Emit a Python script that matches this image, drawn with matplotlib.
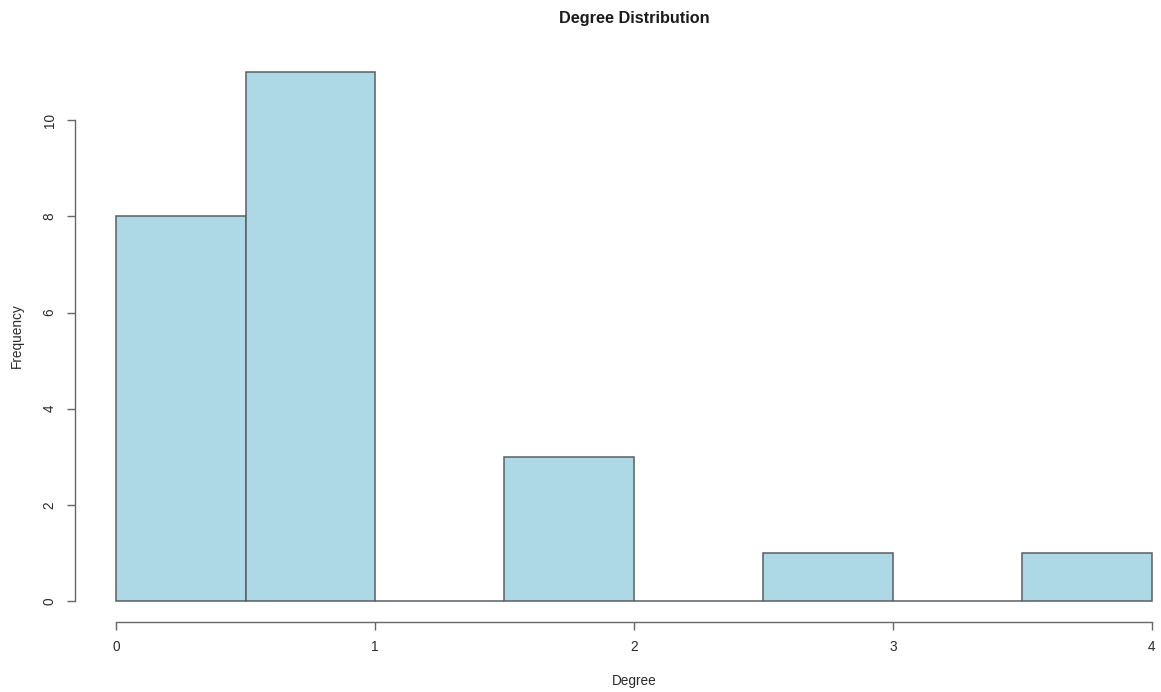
import matplotlib
matplotlib.use("Agg")
import matplotlib.pyplot as plt

# Histogram of node degrees: bin edges and counts per bin
bin_edges = [0.0, 0.5, 1.0, 1.5, 2.0, 2.5, 3.0, 3.5, 4.0]
counts = [8, 11, 0, 3, 0, 1, 0, 1]
x_ticks = [0, 1, 2, 3, 4]
y_ticks = [0, 2, 4, 6, 8, 10]

plt.rcParams["font.family"] = ["Liberation Sans", "DejaVu Sans"]

W, H = 1161, 692
fig = plt.figure(figsize=(W / 100, H / 100), dpi=100)

# axes box in pixels
left_px, right_px = 74.6, 1161
top_px, bot_px = 50.9, 622.2
ax = fig.add_axes([left_px / W, 1 - bot_px / H,
                   (right_px - left_px) / W, (bot_px - top_px) / H])

widths = [b - a for a, b in zip(bin_edges[:-1], bin_edges[1:])]
ax.bar(bin_edges[:-1], counts, width=widths, align="edge",
       color="#ADD8E6", edgecolor="#5a5f63", linewidth=1.1)

ax.set_xlim(-0.16, 4.035)
ax.set_ylim(-0.44, 11.44)

for s in ["top", "right"]:
    ax.spines[s].set_visible(False)
for s in ["left", "bottom"]:
    ax.spines[s].set_color("#666666")
    ax.spines[s].set_linewidth(1.0)
ax.spines["left"].set_bounds(0, 10)
ax.spines["bottom"].set_bounds(0, 4)

ax.set_xticks(x_ticks)
ax.set_yticks(y_ticks)
ax.set_xticklabels([str(v) for v in x_ticks])
ax.set_yticklabels([str(v) for v in y_ticks], rotation=90, va="center")
ax.tick_params(axis="both", length=6, width=1.0, color="#666666",
               labelsize=9.8, labelcolor="#2a2a2a", pad=7)

fig.text(0.5 * (116 + 1152) / W, 1 - 19 / H, "Degree Distribution",
         ha="center", va="center", fontsize=11.7, fontweight="bold",
         color="#1a1a1a")
fig.text(634 / W, 1 - 681 / H, "Degree", ha="center", va="center",
         fontsize=9.8, color="#2a2a2a")
fig.text(17 / W, 1 - 336 / H, "Frequency", ha="center", va="center",
         rotation=90, fontsize=9.8, color="#2a2a2a")

fig.savefig("out.png", dpi=100)
